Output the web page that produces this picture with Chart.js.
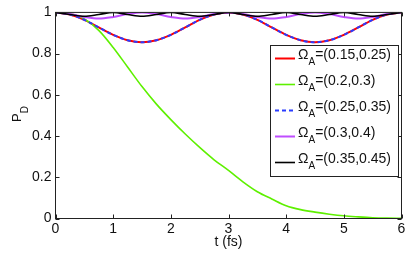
<!DOCTYPE html>
<html>
<head>
<meta charset="utf-8">
<script src="https://cdn.jsdelivr.net/npm/chart.js@4.4.1/dist/chart.umd.min.js"></script>
<style>
  html, body { margin: 0; padding: 0; background: #fff; }
</style>
</head>
<body>
<canvas id="pdChart" width="415" height="258"></canvas>
<script>
    // time axis (fs) and P_D values
    const times = [0, 0.25, 0.5, 0.75, 1, 1.25, 1.5, 1.75, 2, 2.25, 2.5, 2.75, 3,
                   3.25, 3.5, 3.75, 4, 4.25, 4.5, 4.75, 5, 5.25, 5.5, 5.75, 6];

    const pdA = [1, 0.99, 0.964, 0.927, 0.891, 0.865, 0.855, 0.865, 0.891, 0.927, 0.964, 0.99, 1,
                 0.99, 0.964, 0.927, 0.891, 0.865, 0.855, 0.865, 0.891, 0.927, 0.964, 0.99, 1];
    const pdB = [1, 0.993, 0.968, 0.913, 0.83, 0.735, 0.64, 0.555, 0.48, 0.41, 0.345, 0.285, 0.233,
                 0.178, 0.13, 0.095, 0.062, 0.043, 0.031, 0.021, 0.013, 0.008, 0.004, 0.002, 0.001];
    const pdC = [1, 0.99, 0.964, 0.927, 0.891, 0.865, 0.855, 0.865, 0.891, 0.927, 0.964, 0.99, 1,
                 0.99, 0.964, 0.927, 0.891, 0.865, 0.855, 0.865, 0.891, 0.927, 0.964, 0.99, 1];
    const pdD = [1, 0.992, 0.978, 0.97, 0.978, 0.992, 1, 0.992, 0.978, 0.97, 0.978, 0.992, 1,
                 0.992, 0.978, 0.97, 0.978, 0.992, 1, 0.992, 0.978, 0.97, 0.978, 0.992, 1];
    const pdE = [1, 0.99, 0.981, 0.99, 1, 0.99, 0.981, 0.99, 1, 0.99, 0.981, 0.99, 1,
                 0.99, 0.981, 0.99, 1, 0.99, 0.981, 0.99, 1, 0.99, 0.981, 0.99, 1];

    const omegaLabels = ['(0.15,0.25)', '(0.2,0.3)', '(0.25,0.35)', '(0.3,0.4)', '(0.35,0.45)'];
    const xTicks = [0, 1, 2, 3, 4, 5, 6];
    const yTicks = [0, 0.2, 0.4, 0.6, 0.8, 1];

    const toPoints = vals => times.map((t, i) => ({ x: t, y: vals[i] }));
    const FONT = '"Liberation Sans", Arial, Helvetica, sans-serif';

    const series = [
      { vals: pdA, color: '#ff0000', width: 2, dash: [], order: 5 },
      { vals: pdB, color: '#5ef000', width: 1.6, dash: [], order: 4 },
      { vals: pdC, color: '#2a3cff', width: 2, dash: [4, 3], order: 3 },
      { vals: pdD, color: '#bf4dff', width: 2, dash: [], order: 2 },
      { vals: pdE, color: '#000000', width: 1.6, dash: [], order: 1 }
    ];

    // frame, inward ticks, legend with subscripts, axis titles
    const matlabLook = {
      id: 'matlabLook',
      afterDatasetsDraw(chart) {
        const ctx = chart.ctx;
        const { left, right, top, bottom } = chart.chartArea;
        const xs = chart.scales.x, ys = chart.scales.y;
        ctx.save();

        ctx.strokeStyle = '#222';
        ctx.lineWidth = 1;
        ctx.setLineDash([]);
        ctx.strokeRect(left, top, right - left, bottom - top);

        ctx.beginPath();
        xTicks.forEach(v => {
          const px = Math.round(xs.getPixelForValue(v)) + 0.5;
          ctx.moveTo(px, bottom); ctx.lineTo(px, bottom - 4);
          ctx.moveTo(px, top); ctx.lineTo(px, top + 4);
        });
        yTicks.forEach(v => {
          const py = Math.round(ys.getPixelForValue(v)) + 0.5;
          ctx.moveTo(left, py); ctx.lineTo(left + 4, py);
          ctx.moveTo(right, py); ctx.lineTo(right - 4, py);
        });
        ctx.stroke();

        // legend
        const bx = 270.5, by = 45.5, bw = 128, bh = 131;
        ctx.fillStyle = '#fff';
        ctx.fillRect(bx, by, bw, bh);
        ctx.strokeStyle = '#222';
        ctx.strokeRect(bx, by, bw, bh);
        series.forEach((s, i) => {
          const y = 58.5 + i * 26;
          ctx.strokeStyle = s.color;
          ctx.lineWidth = s.width;
          ctx.setLineDash(s.dash);
          ctx.beginPath();
          ctx.moveTo(275, y); ctx.lineTo(295, y);
          ctx.stroke();
          ctx.setLineDash([]);
          ctx.fillStyle = '#111';
          ctx.textAlign = 'left';
          ctx.textBaseline = 'alphabetic';
          ctx.font = '14px ' + FONT;
          let x = 298;
          ctx.fillText('Ω', x, y);
          x += ctx.measureText('Ω').width;
          ctx.font = '10px ' + FONT;
          ctx.fillText('A', x, y + 6);
          x += ctx.measureText('A').width;
          ctx.font = '14px ' + FONT;
          ctx.fillText('=' + omegaLabels[i], x, y);
        });

        // axis titles
        ctx.fillStyle = '#111';
        ctx.font = '14px ' + FONT;
        ctx.textAlign = 'center';
        ctx.fillText('t (fs)', (left + right) / 2, 246);

        ctx.translate(20.5, 122);
        ctx.rotate(-Math.PI / 2);
        ctx.textAlign = 'left';
        ctx.font = '13px ' + FONT;
        ctx.fillText('P', 0, 0);
        const wP = ctx.measureText('P').width;
        ctx.font = '10px ' + FONT;
        ctx.fillText('D', wP, 7);

        ctx.restore();
      }
    };

    const pdChart = new Chart(document.getElementById('pdChart'), {
      type: 'line',
      data: {
        datasets: series.map((s, i) => ({
          label: 'ΩA=' + omegaLabels[i],
          data: toPoints(s.vals),
          borderColor: s.color,
          borderWidth: s.width,
          borderDash: s.dash,
          pointRadius: 0,
          fill: false,
          cubicInterpolationMode: 'monotone',
          order: s.order
        }))
      },
      options: {
        responsive: false,
        animation: false,
        layout: { padding: { top: 10.5, right: 13.5, left: 0, bottom: 0 } },
        plugins: {
          legend: { display: false },
          tooltip: { enabled: false }
        },
        scales: {
          x: {
            type: 'linear',
            min: 0,
            max: 6,
            afterFit: scale => { scale.height = 39.5; },
            afterBuildTicks: scale => { scale.ticks = xTicks.map(v => ({ value: v })); },
            grid: { display: false, drawTicks: false },
            border: { display: false },
            ticks: {
              color: '#111', padding: 2, font: { size: 14, family: FONT },
              callback: v => String(v)
            }
          },
          y: {
            min: 0,
            max: 1,
            afterFit: scale => { scale.width = 55.5; },
            afterBuildTicks: scale => { scale.ticks = yTicks.map(v => ({ value: v })); },
            grid: { display: false, drawTicks: false },
            border: { display: false },
            ticks: {
              color: '#111', padding: 4, font: { size: 14, family: FONT },
              callback: v => String(Math.round(v * 10) / 10)
            }
          }
        }
      },
      plugins: [matlabLook]
    });
</script>
</body>
</html>
